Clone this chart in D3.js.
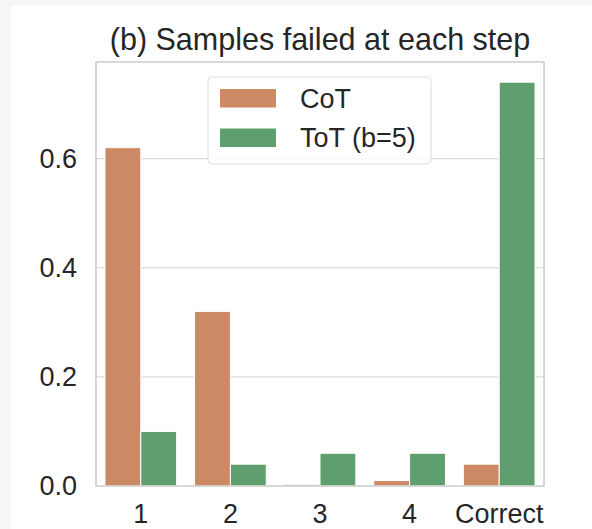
<!DOCTYPE html>
<html>
<head>
<meta charset="utf-8">
<script src="https://cdn.jsdelivr.net/npm/d3@7"></script>
<style>
  html, body { margin: 0; padding: 0; background: #f8f7f5; }
  svg { display: block; font-family: "Liberation Sans", Arial, sans-serif; }
</style>
</head>
<body>
<div id="chart"></div>
<script>
// data
const steps = ["1", "2", "3", "4", "Correct"]
const seriesNames = ["CoT", "ToT (b=5)"]
const cotValues = [0.62, 0.32, 0.003, 0.01, 0.04]
const totValues = [0.10, 0.04, 0.06, 0.06, 0.74]
const yTicks = [0.0, 0.2, 0.4, 0.6]
const colors = ["#cc8963", "#5f9e6e"]

const W = 592, H = 529
const margin = { left: 96, right: 48, top: 62, bottom: 43 }

const svg = d3.select("#chart").append("svg")
    .attr("width", W)
    .attr("height", H)

// white canvas, light strip on the left/top edge
svg.append("rect")
    .attr("x", 11).attr("y", 6)
    .attr("width", W - 11).attr("height", H - 6)
    .attr("fill", "#ffffff")

let x0 = d3.scaleBand()
    .domain(steps)
    .range([margin.left, W - margin.right])
    .paddingInner(0.2).paddingOuter(0.1)
let x1 = d3.scaleBand()
    .domain(seriesNames)
    .range([0, x0.bandwidth()])
let y = d3.scaleLinear()
    .domain([0, 0.777])
    .range([H - margin.bottom, margin.top])

// grid lines
svg.append("g")
    .selectAll("line")
    .data(yTicks.filter(d => d > 0))
    .join("line")
    .attr("x1", margin.left).attr("x2", W - margin.right)
    .attr("y1", d => y(d)).attr("y2", d => y(d))
    .attr("stroke", "#dcdcdc")
    .attr("stroke-width", 1.2)

// bars
let rows = steps.map((s, i) => ({ step: s, values: [cotValues[i], totValues[i]] }))
svg.append("g")
    .selectAll("g")
    .data(rows)
    .join("g")
    .attr("transform", d => `translate(${x0(d.step)},0)`)
    .selectAll("rect")
    .data(d => d.values.map((v, k) => ({ name: seriesNames[k], v: v, k: k })))
    .join("rect")
    .attr("x", d => x1(d.name))
    .attr("y", d => y(d.v))
    .attr("width", x1.bandwidth())
    .attr("height", d => y(0) - y(d.v))
    .attr("fill", d => colors[d.k])
    .attr("stroke", "#ffffff")
    .attr("stroke-width", 1)

// axes
let yAxis = svg.append("g")
    .attr("transform", `translate(${margin.left},0)`)
    .call(d3.axisLeft(y).tickValues(yTicks).tickFormat(d3.format(".1f")).tickSize(0).tickPadding(19))
yAxis.select(".domain").remove()
yAxis.selectAll("text").attr("font-size", 27).attr("fill", "#262626")

let xAxis = svg.append("g")
    .attr("transform", `translate(0,${H - margin.bottom})`)
    .call(d3.axisBottom(x0).tickSize(0).tickPadding(18))
xAxis.select(".domain").remove()
xAxis.selectAll("text").attr("font-size", 27).attr("fill", "#262626")

// frame
svg.append("rect")
    .attr("x", margin.left).attr("y", margin.top)
    .attr("width", W - margin.left - margin.right)
    .attr("height", H - margin.top - margin.bottom)
    .attr("fill", "none")
    .attr("stroke", "#cccccc")
    .attr("stroke-width", 1.5)

// title
svg.append("text")
    .attr("x", (margin.left + W - margin.right) / 2)
    .attr("y", 50)
    .style("text-anchor", "middle")
    .attr("font-size", 30.5)
    .attr("fill", "#262626")
    .text("(b) Samples failed at each step")

// legend
let legend = svg.append("g")
legend.append("rect")
    .attr("x", 208).attr("y", 77)
    .attr("width", 223).attr("height", 87)
    .attr("rx", 4)
    .attr("fill", "#ffffff")
    .attr("fill-opacity", 0.85)
    .attr("stroke", "#dddddd")
seriesNames.forEach((name, k) => {
    legend.append("rect")
        .attr("x", 220).attr("y", 89 + k * 39.5)
        .attr("width", 56).attr("height", 18.5)
        .attr("fill", colors[k])
    legend.append("text")
        .attr("x", 300).attr("y", 98 + k * 39.5)
        .attr("dy", "0.36em")
        .attr("font-size", 27)
        .attr("fill", "#262626")
        .text(name)
})
</script>
</body>
</html>
